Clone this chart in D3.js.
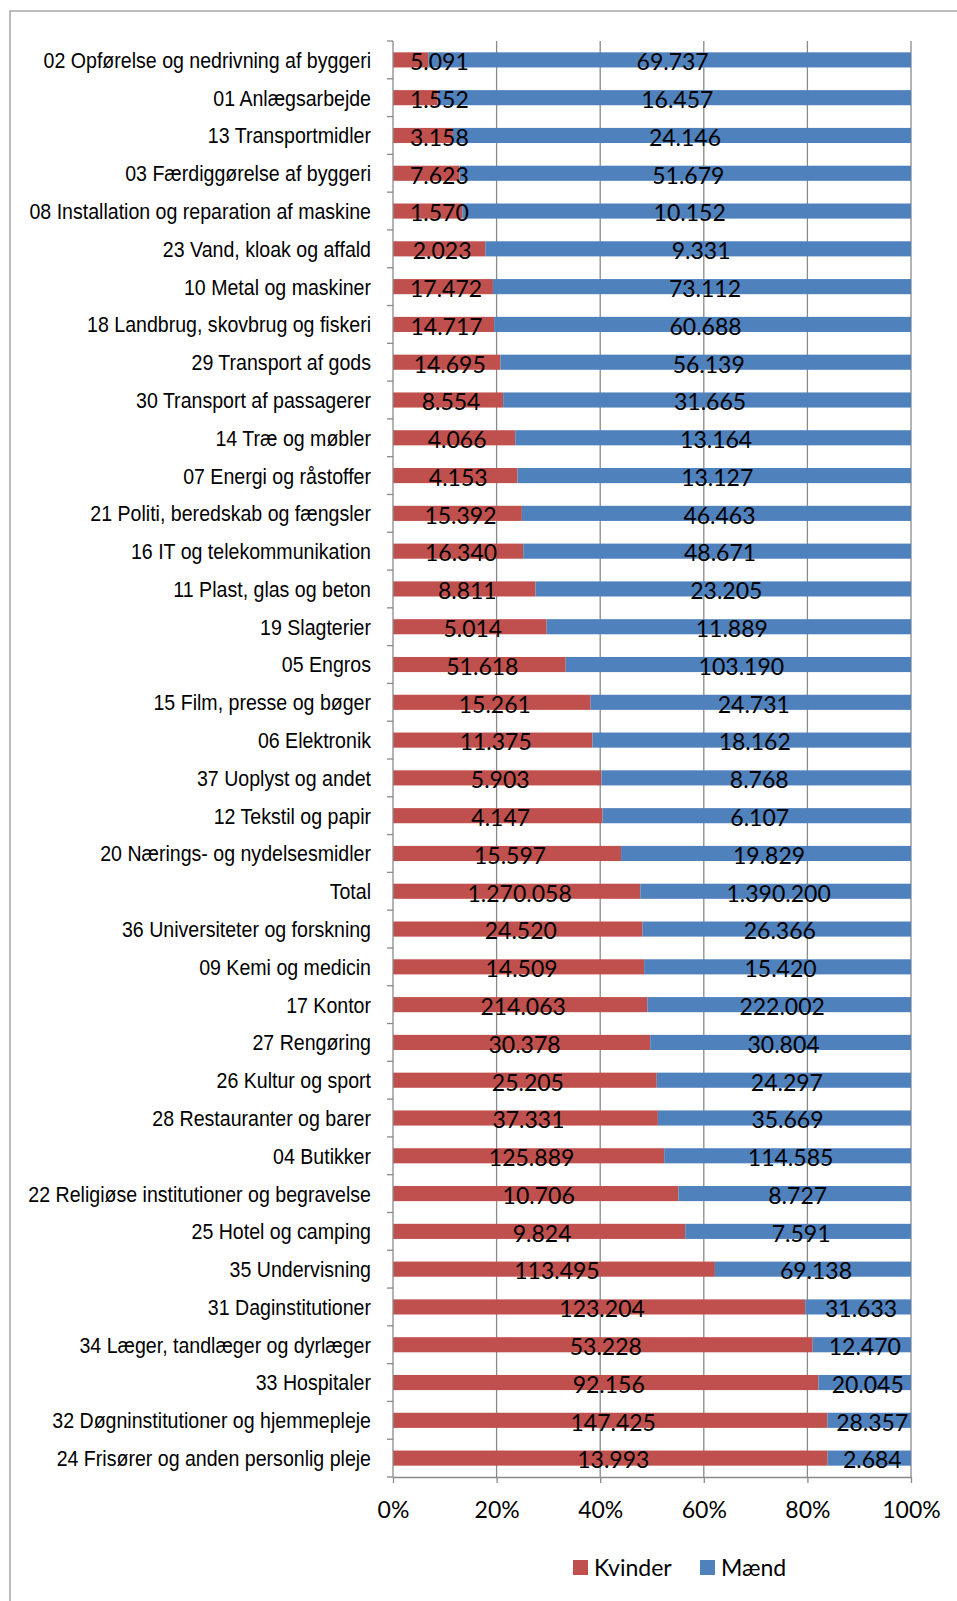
<!DOCTYPE html>
<html>
<head>
<meta charset="utf-8">
<script src="https://cdn.jsdelivr.net/npm/d3@7"></script>
<style>
  body { margin: 0; background: #fff; }
  svg { display: block; }
  .cat text { font-family: "Liberation Sans", Arial, sans-serif; font-size: 22px; fill: #000; }
  .val, .xaxis text, .legend text { font-family: Lato, Calibri, sans-serif; font-size: 23px; fill: #000; }
</style>
</head>
<body>
<div id="chart"></div>
<script>
const categories = [
    '02 Opførelse og nedrivning af byggeri', '01 Anlægsarbejde', '13 Transportmidler',
    '03 Færdiggørelse af byggeri', '08 Installation og reparation af maskine', '23 Vand, kloak og affald',
    '10 Metal og maskiner', '18 Landbrug, skovbrug og fiskeri', '29 Transport af gods',
    '30 Transport af passagerer', '14 Træ og møbler', '07 Energi og råstoffer',
    '21 Politi, beredskab og fængsler', '16 IT og telekommunikation', '11 Plast, glas og beton',
    '19 Slagterier', '05 Engros', '15 Film, presse og bøger', '06 Elektronik',
    '37 Uoplyst og andet', '12 Tekstil og papir', '20 Nærings- og nydelsesmidler', 'Total',
    '36 Universiteter og forskning', '09 Kemi og medicin', '17 Kontor', '27 Rengøring',
    '26 Kultur og sport', '28 Restauranter og barer', '04 Butikker',
    '22 Religiøse institutioner og begravelse', '25 Hotel og camping', '35 Undervisning',
    '31 Daginstitutioner', '34 Læger, tandlæger og dyrlæger', '33 Hospitaler',
    '32 Døgninstitutioner og hjemmepleje', '24 Frisører og anden personlig pleje'
];
const kvinder = [5091, 1552, 3158, 7623, 1570, 2023, 17472, 14717, 14695, 8554, 4066, 4153,
    15392, 16340, 8811, 5014, 51618, 15261, 11375, 5903, 4147, 15597, 1270058, 24520, 14509,
    214063, 30378, 25205, 37331, 125889, 10706, 9824, 113495, 123204, 53228, 92156, 147425, 13993];
const maend = [69737, 16457, 24146, 51679, 10152, 9331, 73112, 60688, 56139, 31665, 13164, 13127,
    46463, 48671, 23205, 11889, 103190, 24731, 18162, 8768, 6107, 19829, 1390200, 26366, 15420,
    222002, 30804, 24297, 35669, 114585, 8727, 7591, 69138, 31633, 12470, 20045, 28357, 2684];
const seriesNames = ['Kvinder', 'Mænd'];
const xTicks = [0, 0.2, 0.4, 0.6, 0.8, 1];

const W = 957, H = 1601;
const plot = {left: 393, right: 911, top: 41, bottom: 1477};
const colors = {Kvinder: '#C0504D', 'Mænd': '#4F81BD'};
const gridColor = '#8a8a8a';
const narrow = 0.89; // category labels are a narrow sans

const dk = d3.formatLocale({decimal: ',', thousands: '.', grouping: [3], currency: ['', '']});
const fmt = dk.format(',d');

const rows = categories.map((c, i) => ({cat: c, Kvinder: kvinder[i], 'Mænd': maend[i]}));
const stacked = d3.stack().keys(seriesNames).offset(d3.stackOffsetExpand)(rows);

const svg = d3.select('#chart').append('svg').attr('width', W).attr('height', H);

// outer frame
svg.append('rect')
    .attr('x', 10).attr('y', 11).attr('width', 1000).attr('height', 2000)
    .attr('fill', 'none').attr('stroke', '#a6a6a6').attr('stroke-width', 1.5);

const x = d3.scaleLinear().domain([0, 1]).range([plot.left, plot.right]);
const y = d3.scaleBand().domain(categories).range([plot.top, plot.bottom])
    .paddingInner(0.6).paddingOuter(0.3);

// gridlines
svg.append('g').selectAll('line').data(xTicks.slice(1)).join('line')
    .attr('x1', d => x(d)).attr('x2', d => x(d))
    .attr('y1', plot.top).attr('y2', plot.bottom)
    .attr('stroke', gridColor).attr('stroke-width', 1.3);

// bars
const layer = svg.append('g').selectAll('g').data(stacked).join('g')
    .attr('fill', d => colors[d.key]);
layer.selectAll('rect').data(d => d).join('rect')
    .attr('x', d => x(d[0]))
    .attr('width', d => x(d[1]) - x(d[0]))
    .attr('y', d => y(d.data.cat))
    .attr('height', y.bandwidth());

// value labels
const labels = svg.append('g');
stacked.forEach(s => {
    s.forEach(d => {
        const cx = (x(d[0]) + x(d[1])) / 2 + 3;
        const t = labels.append('text').attr('class', 'val')
            .attr('text-anchor', 'middle')
            .attr('y', y(d.data.cat) + y.bandwidth() / 2 + 10.3)
            .text(fmt(d.data[s.key]));
        const w = t.node().getComputedTextLength();
        t.attr('x', Math.max(cx, plot.left + 17 + w / 2));
    });
});

// left axis: line, ticks at band boundaries, labels
const leftAxis = svg.append('g');
leftAxis.append('line')
    .attr('x1', plot.left).attr('x2', plot.left)
    .attr('y1', plot.top).attr('y2', plot.bottom)
    .attr('stroke', gridColor).attr('stroke-width', 1.3);
leftAxis.selectAll('.btick').data(d3.range(categories.length + 1)).join('line')
    .attr('class', 'btick')
    .attr('x1', plot.left - 6).attr('x2', plot.left)
    .attr('y1', i => plot.top + i * y.step()).attr('y2', i => plot.top + i * y.step())
    .attr('stroke', gridColor).attr('stroke-width', 1.3);

svg.append('g').attr('class', 'cat')
    .attr('transform', `translate(${plot.left},0)`)
    .call(d3.axisLeft(y).tickSize(0).tickPadding(22))
    .call(g => g.select('.domain').remove())
    .selectAll('text')
    .attr('dy', '0.36em')
    .attr('x', -22 / narrow)
    .attr('transform', `scale(${narrow},1)`);

// bottom axis
svg.append('g').attr('class', 'xaxis')
    .attr('transform', `translate(0,${plot.bottom})`)
    .call(d3.axisBottom(x).tickValues(xTicks).tickFormat(d3.format('.0%'))
        .tickSize(6).tickSizeOuter(0).tickPadding(19))
    .call(g => g.selectAll('line, .domain').attr('stroke', gridColor).attr('stroke-width', 1.3));

// legend
const legend = svg.append('g').attr('class', 'legend');
const legendX = [573, 700];
seriesNames.forEach((name, i) => {
    legend.append('rect')
        .attr('x', legendX[i]).attr('y', 1560).attr('width', 15).attr('height', 15)
        .attr('fill', colors[name]);
    legend.append('text')
        .attr('x', legendX[i] + 21).attr('y', 1575.5)
        .text(name);
});
</script>
</body>
</html>
